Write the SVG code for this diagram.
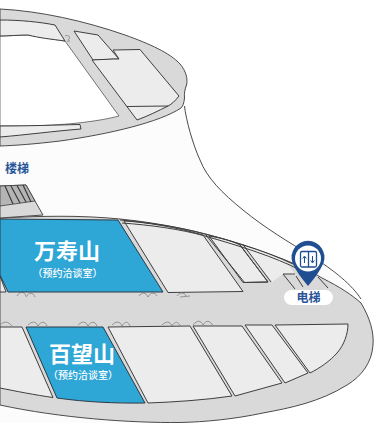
<svg xmlns="http://www.w3.org/2000/svg" width="375" height="423" viewBox="0 0 375 423">
<style>
.o{stroke:#4f4a4a;stroke-width:1;fill:none}
.g{fill:#d9d9d9;stroke:#4f4a4a;stroke-width:1}
.r{fill:#ececec;stroke:#3e3e3e;stroke-width:1}
.b{fill:#2ea6d6;stroke:#2b3a44;stroke-width:1}
.d{fill:none;stroke:#808080;stroke-width:.8}
.w{stroke:#3e3e3e;stroke-width:1;fill:none}
text{font-family:"Noto Sans CJK SC","Noto Sans",sans-serif;text-anchor:middle}
.t{fill:#2a5599;font-weight:700;font-size:12px}
.l{fill:#fff;font-weight:700;font-size:22px}
.s{fill:#fff;font-weight:500;font-size:10px}
</style>
<rect width="375" height="423" fill="#fff"/>
<g id="building">
<path d="M0 146L184 92C184 112 192 140 205 168C218 192 260 226 300 250C330 268 352 288 361 303C370 318 374 332 373 345C372 362 362 376 347 385C320 402 290 408 263 413C235 419 205 422 180 423L0 423Z" fill="#fcfcfc"/>
<path class="o" d="M184.500 106C186 120 193 145 200 160C207 178 222 193 243 210C265 228 290 243 310 255C335 271 352 285 361 299"/>
</g>
<g id="upper-ring">
<path class="g" d="M0 9C40 11 85 21 125 35C150 44 170 53 180 64C186 71 188 79 186.500 85C185 89 184 93 184.500 98C184 103 183 106 181 108C160 122 110 134 60 141C35 144 15 145.500 0 146Z"/>
<path d="M0 36L28 35L65 41L119 116C100 121 70 125 30 126L0 126Z" fill="#fff" stroke="#555" stroke-width=".8"/>
<path class="r" d="M0 20C20 20 40 22 55 25L65 41C50 39 40 38 28 35C18 35 8 36 0 36Z" stroke-width=".8"/>
<path class="r" d="M0 126C30 126 55 125 80 124.500L81 129C55 131 25 135 0 137Z" stroke-width=".8"/>
<path class="d" d="M65 36C69 34 71 38 68 40C71 41 69 42 67 41"/>
<path class="r" d="M74 31L98 35L119 59L93 60Z"/>
<path class="r" d="M92 60L113 59L119 59L113 50L140 49.500L179 96C175 101 172 104 168 106C158 111 148 116 137 120Z"/>
<path class="w" d="M127 106.500L168 106"/>
</g>
<g id="lower-floor">
<path class="g" d="M0 218C40 216 80 215 120 219C160 223 200 231 240 244C270 254 300 264 322 278C340 287 352 295 361 303C370 318 374 332 373 345C372 362 362 376 347 385C320 402 290 408 263 413C235 419 205 422 180 422.500C130 423 60 418 0 405Z"/>
<path class="g" d="M0 186L26 185L35 201L43 215L0 218Z"/>
<path d="M0 186L26 185L35 201L0 206Z" fill="#b4b4b4" stroke="#3e3e3e" stroke-width=".8"/>
<path d="M5 186L13 204M11 186L20 203M17 185.500L26 202M23 185L31 202" stroke="#333" stroke-width="1.100" fill="none"/>
<path class="r" d="M124 221C145 222 175 227 203 235L243 291.500L168 292.500Z"/>
<path class="r" d="M209 236C222 238 232 241 240 245L268 282L243 282.500Z"/>
<path d="M244 246C255 249 270 254 285 261L296 275L283 274L272 282Z" fill="#ececec"/>
<path class="w" d="M243 282.500L268 282"/>
<path class="w" d="M206 235L245 283M240 245L268 282M243 244.500L271 282"/>
<path class="w" d="M120 220C145 222 180 227 205 234C240 243 275 254 305 270M122 223C150 225 180 229 205 236C240 246 275 257 300 270" stroke-width=".8"/>
<path class="w" d="M283 274L295 289M283 274L295 274M296 276L303 287M318 277L328 288"/>
<path class="r" d="M0 276L6 292L0 292Z"/>
<path class="r" d="M0 327L22 327L53 397.500C35 395 15 391 0 388Z"/>
<path class="r" d="M108 327L190 326L232 396C205 400 175 402 148 403Z"/>
<path class="r" d="M193 326L242 326L282 383L235 396Z"/>
<path class="r" d="M245 325L272 325L308 373L285 383Z"/>
<path class="r" d="M275 325L348 324C348 334 344 345 337 353C330 361 320 368 310 373Z"/>
<path class="d" d="M17 296C20 291 24 291 26 296M26 297C29 292 33 292 35 297M139 296C142 292 146 292 148 297C151 292 155 292 157 296M177 296C180 292 184 292 186 296M180 297L190 296"/>
<path class="d" d="M0 325C4 321 8 321 12 326M28 325C32 321 36 321 38 326C41 321 45 321 47 326M78 325C82 321 86 321 88 326C91 321 95 321 97 326M112 325C116 321 120 321 122 326C125 321 128 321 130 326M162 325C166 321 170 321 172 326C175 321 178 321 180 326M193 325C197 320 201 320 203 325C206 320 210 320 213 326"/>
</g>
<g id="room-wanshoushan">
<path class="b" d="M0 219L118 220L163 292L8 292L0 275Z"/>
<text class="l" x="67" y="259">万寿山</text>
<text class="s" x="67.500" y="276.500">（预约洽谈室）</text>
</g>
<g id="room-baiwangshan">
<path class="b" d="M26 327L103 327L145 403C115 403.500 85 402 57 398Z"/>
<text class="l" x="82" y="362">百望山</text>
<text class="s" x="83" y="379">（预约洽谈室）</text>
</g>
<g id="label-stairs"><text class="t" x="17" y="173">楼梯</text></g>
<g id="elevator">
<path d="M292.500 263A16.500 16.500 0 1 1 323.500 263C320 271 314 279 308 286C302 279 296 271 292.500 263Z" fill="#1f4e91"/>
<circle cx="308" cy="258.500" r="13" fill="#fff"/>
<rect x="300.500" y="251.500" width="16" height="15.500" rx="1.500" fill="none" stroke="#1f4e91" stroke-width="1.300"/>
<path d="M308.500 251.500V267" stroke="#1f4e91" stroke-width="1.300"/>
<path d="M304.500 263V257M302.700 258.500L304.500 256L306.300 258.500M312.500 256V262M310.700 260.500L312.500 263L314.300 260.500" stroke="#1f4e91" stroke-width="1" fill="none"/>
<rect x="284" y="290" width="49" height="15" rx="7.500" fill="#fff"/>
<text class="t" x="308.500" y="302">电梯</text>
</g>
</svg>
